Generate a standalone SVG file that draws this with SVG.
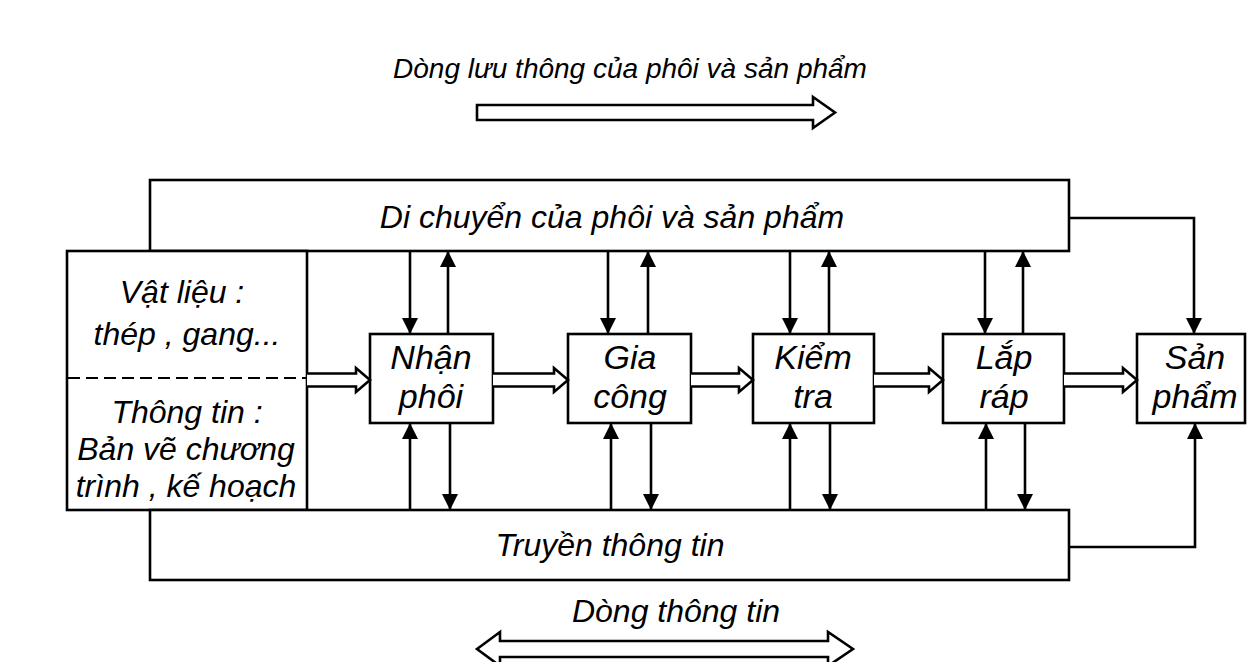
<svg xmlns="http://www.w3.org/2000/svg" width="1248" height="662" viewBox="0 0 1248 662">
  <style>
    .box { fill: #fff; stroke: #000; stroke-width: 2.6; }
    .lbl { font-family: "Liberation Sans", Arial, sans-serif; font-style: italic; font-size: 32px; fill: #000; text-anchor: middle; }
    .title { font-size: 28px; }
    .big { font-size: 34px; }
    .wire { fill: none; stroke: #000; stroke-width: 2.6; }
    .hollow { fill: #fff; stroke: #000; stroke-width: 2.6; stroke-linejoin: miter; }
    .dash { stroke: #000; stroke-width: 2; stroke-dasharray: 12 6; }
  </style>
  <defs>
    <marker id="head" viewBox="0 0 16 16" refX="16" refY="8" markerWidth="16" markerHeight="16" markerUnits="userSpaceOnUse" orient="auto">
      <path d="M0,0 L16,8 L0,16 Z" fill="#000"/>
    </marker>
  </defs>
  <rect width="1248" height="662" fill="#fff"/>

  <!-- flow legend: parts and products -->
  <g id="legend-flow">
    <text class="lbl title" x="630" y="78">Dòng lưu thông của phôi và sản phẩm</text>
    <path class="hollow" d="M477,105 H813 V97 L835,112.5 L813,128 V120 H477 Z"/>
  </g>

  <!-- transport of parts and products -->
  <g id="di-chuyen">
    <rect class="box" x="150" y="180" width="919" height="71"/>
    <text class="lbl" x="612" y="228">Di chuyển của phôi và sản phẩm</text>
  </g>

  <!-- inputs: material and information -->
  <g id="dau-vao">
    <rect class="box" x="67" y="251" width="240" height="259"/>
    <line class="dash" x1="68" y1="378" x2="306" y2="378"/>
    <text class="lbl" x="182" y="303">Vật liệu :</text>
    <text class="lbl" x="187" y="345">thép , gang...</text>
    <text class="lbl" x="187" y="423">Thông tin :</text>
    <text class="lbl" x="186" y="460">Bản vẽ chương</text>
    <text class="lbl" x="186" y="497">trình , kế hoạch</text>
  </g>

  <!-- information transfer -->
  <g id="truyen-thong-tin">
    <rect class="box" x="150" y="510" width="919" height="70"/>
    <text class="lbl" x="610" y="556">Truyền thông tin</text>
  </g>

  <g id="nhan-phoi">
    <rect class="box" x="370" y="334" width="123" height="89"/>
    <text class="lbl big" x="431" y="369">Nhận</text>
    <text class="lbl big" x="431" y="408">phôi</text>
  </g>
  <g id="gia-cong">
    <rect class="box" x="568" y="334" width="123" height="89"/>
    <text class="lbl big" x="630" y="369">Gia</text>
    <text class="lbl big" x="630" y="408">công</text>
  </g>
  <g id="kiem-tra">
    <rect class="box" x="753" y="334" width="121" height="89"/>
    <text class="lbl big" x="813" y="369">Kiểm</text>
    <text class="lbl big" x="813" y="408">tra</text>
  </g>
  <g id="lap-rap">
    <rect class="box" x="943" y="334" width="121" height="89"/>
    <text class="lbl big" x="1004" y="369">Lắp</text>
    <text class="lbl big" x="1004" y="408">ráp</text>
  </g>
  <g id="san-pham">
    <rect class="box" x="1137" y="334" width="108" height="89"/>
    <text class="lbl big" x="1195" y="369">Sản</text>
    <text class="lbl big" x="1195" y="408">phẩm</text>
  </g>

  <g id="connectors">
    <!-- material flow between stations -->
    <path class="hollow" d="M307,373.5 H356 V368 L370,380 L356,392 V386.5 H307"/>
    <path class="hollow" d="M493,373.5 H554 V368 L568,380 L554,392 V386.5 H493"/>
    <path class="hollow" d="M691,373.5 H739 V368 L753,380 L739,392 V386.5 H691"/>
    <path class="hollow" d="M874,373.5 H929 V368 L943,380 L929,392 V386.5 H874"/>
    <path class="hollow" d="M1064,373.5 H1123 V368 L1137,380 L1123,392 V386.5 H1064"/>

    <!-- transport links -->
    <line class="wire" x1="410" y1="251" x2="410" y2="334" marker-end="url(#head)"/>
    <line class="wire" x1="448" y1="334" x2="448" y2="251" marker-end="url(#head)"/>
    <line class="wire" x1="608" y1="251" x2="608" y2="334" marker-end="url(#head)"/>
    <line class="wire" x1="648" y1="334" x2="648" y2="251" marker-end="url(#head)"/>
    <line class="wire" x1="790" y1="251" x2="790" y2="334" marker-end="url(#head)"/>
    <line class="wire" x1="829" y1="334" x2="829" y2="251" marker-end="url(#head)"/>
    <line class="wire" x1="985" y1="251" x2="985" y2="334" marker-end="url(#head)"/>
    <line class="wire" x1="1023" y1="334" x2="1023" y2="251" marker-end="url(#head)"/>
    <path class="wire" d="M1069,218 H1194 V334" marker-end="url(#head)"/>

    <!-- information links -->
    <line class="wire" x1="410" y1="510" x2="410" y2="423" marker-end="url(#head)"/>
    <line class="wire" x1="450" y1="423" x2="450" y2="510" marker-end="url(#head)"/>
    <line class="wire" x1="611" y1="510" x2="611" y2="423" marker-end="url(#head)"/>
    <line class="wire" x1="651" y1="423" x2="651" y2="510" marker-end="url(#head)"/>
    <line class="wire" x1="790" y1="510" x2="790" y2="423" marker-end="url(#head)"/>
    <line class="wire" x1="830" y1="423" x2="830" y2="510" marker-end="url(#head)"/>
    <line class="wire" x1="986" y1="510" x2="986" y2="423" marker-end="url(#head)"/>
    <line class="wire" x1="1025" y1="423" x2="1025" y2="510" marker-end="url(#head)"/>
    <path class="wire" d="M1069,547 H1195 V423" marker-end="url(#head)"/>
  </g>

  <!-- information flow legend -->
  <g id="legend-info">
    <text class="lbl" x="676" y="622">Dòng thông tin</text>
    <path class="hollow" d="M477,649 L500,632 V641 H828 V632 L853,649 L828,666 V657 H500 V666 Z"/>
  </g>
</svg>
